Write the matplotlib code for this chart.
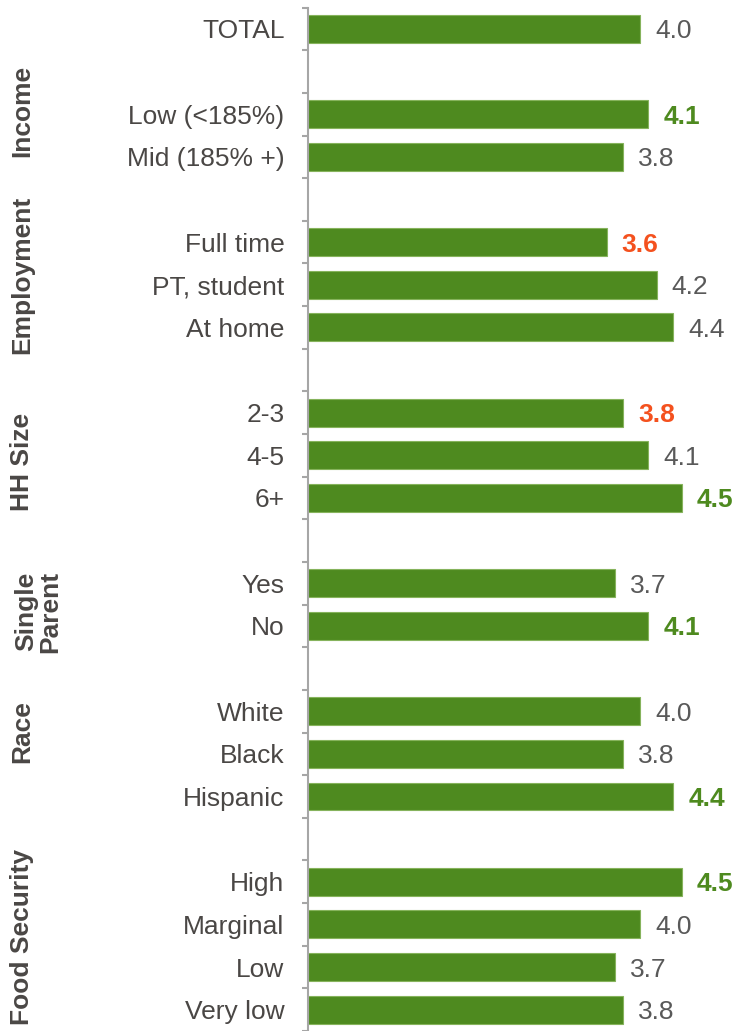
import matplotlib.pyplot as plt
import numpy as np

plt.rcParams['font.family'] = ['Liberation Sans', 'DejaVu Sans']

# rows top to bottom, '' = spacer row between groups
labels = ['TOTAL', '', 'Low (<185%)', 'Mid (185% +)', '', 'Full time', 'PT, student',
          'At home', '', '2-3', '4-5', '6+', '', 'Yes', 'No', '', 'White', 'Black',
          'Hispanic', '', 'High', 'Marginal', 'Low', 'Very low']
values = [4.0, None, 4.1, 3.8, None, 3.6, 4.2, 4.4, None, 3.8, 4.1, 4.5, None,
          3.7, 4.1, None, 4.0, 3.8, 4.4, None, 4.5, 4.0, 3.7, 3.8]
# 'hi' = green bold, 'lo' = red bold, '' = plain
flags = ['', None, 'hi', '', None, 'lo', '', '', None, 'lo', '', 'hi', None,
         '', 'hi', None, '', '', 'hi', None, 'hi', '', '', '']
groups = ['Income', 'Employment', 'HH Size', 'Single\nParent', 'Race', 'Food Security']
group_pos = [1.91, 5.73, 10.1, 13.6, 16.4, 21.2]

GREEN = '#4E8A1F'
RED = '#F4511E'
GRAY = '#595959'
TXT = '#4A4745'
AXC = '#A6A6A6'
FS = 19

Y0, DY = 29.0, 42.83   # pixel centre of first row, row pitch

fig = plt.figure(figsize=(7.38, 10.31), dpi=100)
top_px = Y0 - DY / 2
ax = fig.add_axes([308 / 738, 0, 1 - 308 / 738, 1 - top_px / 1031])

rows = np.arange(len(labels))
for i, v in enumerate(values):
    if v is None:
        continue
    ax.barh(i, v, height=0.655, color=GREEN, edgecolor='#86B35C', linewidth=0.8)
    f = flags[i]
    col = GREEN if f == 'hi' else RED if f == 'lo' else GRAY
    ax.text(v + 0.18, i, f'{v:.1f}', va='center_baseline', ha='left', fontsize=FS,
            color=col, fontweight='bold' if f else 'normal')

ax.set_xlim(0, (738 - 308) / 83)
ax.set_ylim((1031 - Y0) / DY, -0.5)

for s in ['top', 'right', 'bottom']:
    ax.spines[s].set_visible(False)
ax.spines['left'].set_color(AXC)
ax.spines['left'].set_linewidth(1.5)
ax.set_xticks([])

ax.set_yticks(rows)
ax.set_yticklabels(labels, fontsize=FS, color=TXT)
ax.tick_params(axis='y', which='major', length=0, pad=17)
ax.set_yticks(np.arange(-0.5, len(labels), 1), minor=True)
ax.tick_params(axis='y', which='minor', length=4.5, width=1.5, color=AXC)

for g, p in zip(groups, group_pos):
    x = 38 if '\n' in g else 22
    fig.text(x / 738, 1 - (Y0 + DY * p) / 1031, g, rotation=90, ha='center',
             va='center', fontsize=FS, fontweight='bold', color=TXT,
             linespacing=1.0)

fig.savefig('out.png', dpi=100)
